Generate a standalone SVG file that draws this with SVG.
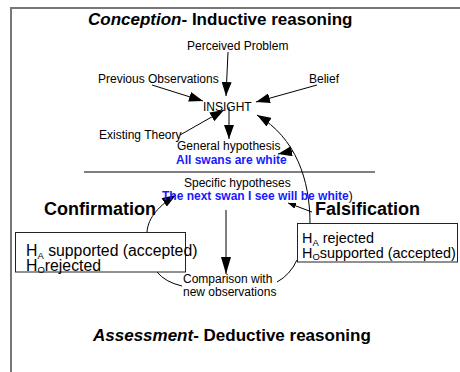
<svg xmlns="http://www.w3.org/2000/svg" width="460" height="372" viewBox="0 0 460 372">
  <defs>
    <style>
      text { font-family: "Liberation Sans", Arial, sans-serif; fill: #000; }
      .lbl { font-size: 12px; }
      .head { font-size: 17px; font-weight: bold; }
      .big { font-size: 18px; font-weight: bold; }
      .blue { font-size: 12px; font-weight: bold; fill: #1a1aff; }
      .hyp { font-size: 15.8px; }
      .hyp2 { font-size: 14.4px; }
      .sub { font-size: 9.5px; }
      .conn { fill: none; stroke: #000; stroke-width: 1; }
      .box { fill: #fff; stroke: #222; stroke-width: 1; }
    </style>
    <marker id="ah" markerUnits="userSpaceOnUse" markerWidth="14" markerHeight="10" refX="14" refY="5" orient="auto">
      <path d="M0,0 L14,5 L0,10 z" fill="#000"/>
    </marker>
    <marker id="ah-long" markerUnits="userSpaceOnUse" markerWidth="17" markerHeight="10" refX="17" refY="5" orient="auto">
      <path d="M0,0 L17,5 L0,10 z" fill="#000"/>
    </marker>
    <marker id="ah-s" markerUnits="userSpaceOnUse" markerWidth="8" markerHeight="6" refX="8" refY="3" orient="auto">
      <path d="M0,0 L8,3 L0,6 z" fill="#000"/>
    </marker>
  </defs>

  <!-- page frame -->
  <path d="M11,372 V8 H460" fill="none" stroke="#777" stroke-width="2"/>

  <!-- headings -->
  <g id="title-conception">
    <text class="head" x="88" y="25"><tspan font-style="italic">Conception</tspan>- Inductive reasoning</text>
  </g>
  <g id="title-assessment">
    <text class="head" x="93" y="341"><tspan font-style="italic">Assessment</tspan>- Deductive reasoning</text>
  </g>

  <!-- connectors -->
  <g id="connectors">
    <line class="conn" x1="228" y1="52" x2="226" y2="96" marker-end="url(#ah)"/>
    <line class="conn" x1="152" y1="85" x2="203" y2="101" marker-end="url(#ah)"/>
    <line class="conn" x1="317" y1="85" x2="256" y2="102" marker-end="url(#ah)"/>
    <line class="conn" x1="180" y1="135" x2="224" y2="110" marker-end="url(#ah)"/>
    <line class="conn" x1="229" y1="107" x2="229" y2="139" marker-end="url(#ah)"/>
    <path class="conn" d="M310,223 C310,180 296,138 257,115" marker-end="url(#ah)"/>
    <line class="conn" x1="293" y1="151" x2="278" y2="154" marker-end="url(#ah)"/>
    <line class="conn" x1="312" y1="212" x2="288" y2="203" marker-end="url(#ah-s)"/>
    <path class="conn" d="M147,232 C148,217 160,205 176,195" marker-end="url(#ah)"/>
    <line class="conn" x1="226" y1="210" x2="226" y2="274" marker-end="url(#ah-long)"/>
    <path class="conn" d="M157,272 Q165,282 182,286"/>
    <path class="conn" d="M277,282 Q290,275 297,260"/>
    <line class="conn" x1="84" y1="172" x2="375" y2="172"/>
  </g>

  <!-- nodes -->
  <g id="perceived-problem"><text class="lbl" x="187" y="49.5">Perceived Problem</text></g>
  <g id="previous-observations"><text class="lbl" x="98" y="83">Previous Observations</text></g>
  <g id="belief"><text class="lbl" x="309" y="83">Belief</text></g>
  <g id="insight"><text class="lbl" x="203" y="111">INSIGHT</text></g>
  <g id="existing-theory"><text class="lbl" x="99" y="139">Existing Theory</text></g>
  <g id="general-hypothesis">
    <text class="lbl" x="177" y="150">General hypothesis</text>
    <text class="blue" x="176" y="163.5">All swans are white</text>
  </g>
  <g id="specific-hypotheses">
    <text class="lbl" x="184" y="186.5">Specific hypotheses</text>
    <text class="blue" x="162" y="199.5">The next swan I see will be white<tspan style="font-weight:normal;fill:#000">)</tspan></text>
  </g>
  <g id="confirmation">
    <text class="big" x="44" y="215">Confirmation</text>
    <rect class="box" x="15.5" y="232.5" width="170" height="39.5"/>
    <text class="hyp" x="26" y="256">H<tspan class="sub" dy="3">A</tspan><tspan dy="-3"> supported (accepted)</tspan></text>
    <text class="hyp" x="26" y="271">H<tspan class="sub" dy="2">O</tspan><tspan dy="-2">rejected</tspan></text>
  </g>
  <g id="falsification">
    <text class="big" x="315" y="215">Falsification</text>
    <rect class="box" x="297.5" y="223.5" width="160" height="38.5"/>
    <text class="hyp2" x="302" y="243">H<tspan class="sub" dy="3">A</tspan><tspan dy="-3"> rejected</tspan></text>
    <text class="hyp2" x="302" y="258">H<tspan class="sub" dy="2">O</tspan><tspan dy="-2">supported (accepted)</tspan></text>
  </g>
  <g id="comparison">
    <text class="lbl" x="183" y="283">Comparison with</text>
    <text class="lbl" x="183" y="296">new observations</text>
  </g>
</svg>
